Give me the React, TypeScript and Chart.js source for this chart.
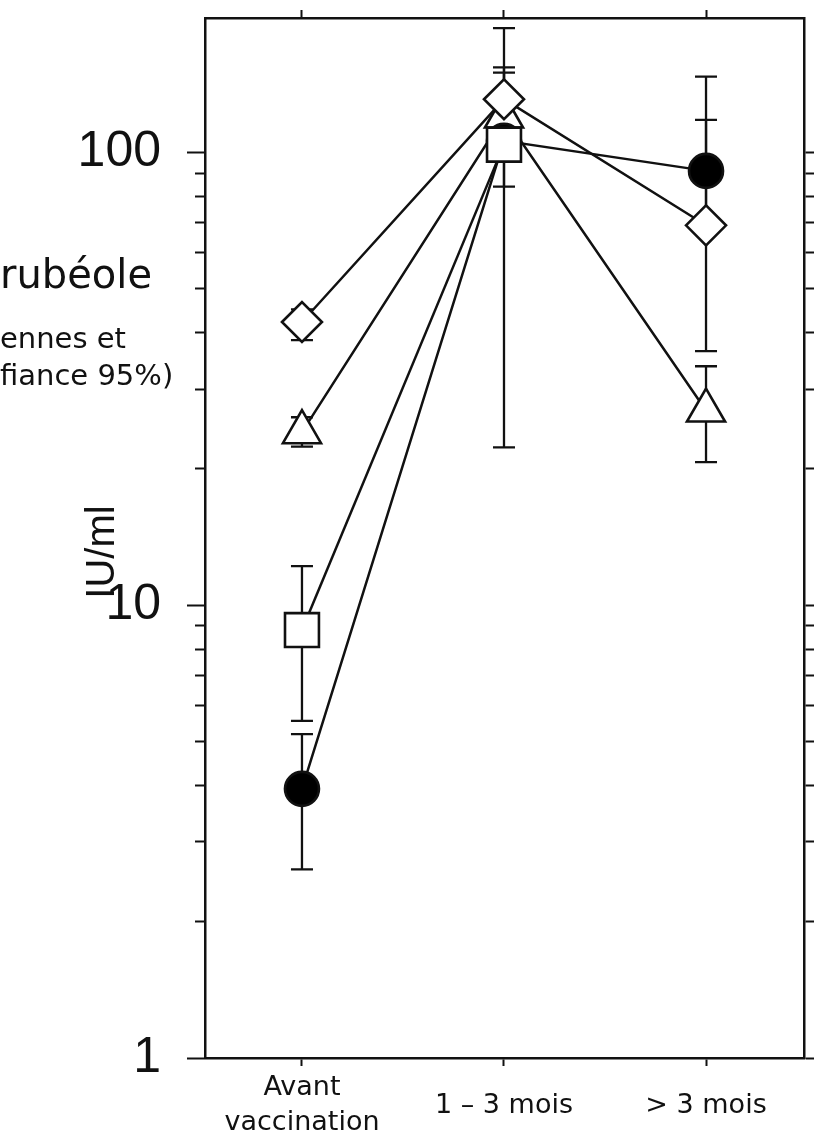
import React, { useEffect, useRef } from "react";
import { Chart, registerables } from "chart.js";

Chart.register(...registerables);

// ---- data ----
const categories: (string | string[])[] = [["Avant", "vaccination"], "1 – 3 mois", "> 3 mois"];
const catPositions = [0, 1, 2];

const circleMean = [3.93, 106, 91];
const circleLow = [2.61, 22.3, 72];
const circleHigh = [5.19, 188, 147];

const squareMean = [8.81, 104, null];
const squareLow = [5.55, 84, null];
const squareHigh = [12.2, 110, null];

const diamondMean = [42.2, 131, 69];
const diamondLow = [38.5, 120, 36.4];
const diamondHigh = [45, 154, 118];

const triangleMean = [24.1, 120, 26.9];
const triangleLow = [22.4, 108, 20.7];
const triangleHigh = [26, 150, 33.7];

const yMin = 1;
const yMax = 198;
const yMajorTicks = [1, 10, 100];
const yMinorTicks = [2, 3, 4, 5, 6, 7, 8, 9, 20, 30, 40, 50, 60, 70, 80, 90];
const yAllTicks = [1, 2, 3, 4, 5, 6, 7, 8, 9, 10, 20, 30, 40, 50, 60, 70, 80, 90, 100];

const annotationTexts = ["rubéole", "ennes et", "fiance 95%)"];
const yTitle = "IU/ml";

type Series = {
  key: string;
  mean: (number | null)[];
  low: (number | null)[];
  high: (number | null)[];
  pointStyle: string;
  radius: number;
  fill: string;
};

// drawing order: first = top
const series: Series[] = [
  { key: "diamond", mean: diamondMean, low: diamondLow, high: diamondHigh, pointStyle: "rectRot", radius: 20, fill: "#ffffff" },
  { key: "square", mean: squareMean, low: squareLow, high: squareHigh, pointStyle: "rect", radius: 24, fill: "#ffffff" },
  { key: "circle", mean: circleMean, low: circleLow, high: circleHigh, pointStyle: "circle", radius: 17, fill: "#000000" },
  { key: "triangle", mean: triangleMean, low: triangleLow, high: triangleHigh, pointStyle: "triangle", radius: 22, fill: "#ffffff" },
];

const INK = "#111111";

const zeroPad = (s: any) => {
  s.paddingTop = 0;
  s.paddingBottom = 0;
  s.paddingLeft = 0;
  s.paddingRight = 0;
};

const errorBarPlugin = {
  id: "errorBars",
  beforeDatasetsDraw(chart: any) {
    const { ctx } = chart;
    const xs = chart.scales.x;
    const ys = chart.scales.y;
    ctx.save();
    ctx.strokeStyle = INK;
    ctx.lineWidth = 2.3;
    series.forEach((s) => {
      s.mean.forEach((m, i) => {
        const lo = s.low[i];
        const hi = s.high[i];
        if (m == null || lo == null || hi == null) return;
        const px = xs.getPixelForValue(catPositions[i]);
        const pLo = ys.getPixelForValue(lo);
        const pHi = ys.getPixelForValue(hi);
        ctx.beginPath();
        ctx.moveTo(px, pLo);
        ctx.lineTo(px, pHi);
        ctx.moveTo(px - 11, pLo);
        ctx.lineTo(px + 11, pLo);
        ctx.moveTo(px - 11, pHi);
        ctx.lineTo(px + 11, pHi);
        ctx.stroke();
      });
    });
    ctx.restore();
  },
};

const textPlugin = {
  id: "freeTexts",
  afterDraw(chart: any) {
    const { ctx } = chart;
    ctx.save();
    ctx.fillStyle = INK;
    ctx.textAlign = "left";
    ctx.textBaseline = "alphabetic";
    ctx.font = '40px "DejaVu Sans"';
    ctx.fillText(annotationTexts[0], 0, 288);
    ctx.font = '29px "DejaVu Sans"';
    ctx.fillText(annotationTexts[1], 0, 348);
    ctx.fillText(annotationTexts[2], 0, 385);
    ctx.translate(103, 552);
    ctx.rotate(-Math.PI / 2);
    ctx.textAlign = "center";
    ctx.textBaseline = "middle";
    ctx.font = '40px "Liberation Sans"';
    ctx.fillText(yTitle, 0, 0);
    ctx.restore();
  },
};

export default function App() {
  const canvasRef = useRef<HTMLCanvasElement | null>(null);

  useEffect(() => {
    const canvas = canvasRef.current;
    if (!canvas) return;
    const datasets = series.map((s) => ({
      label: s.key,
      data: s.mean
        .map((m, i) => (m == null ? null : { x: catPositions[i], y: m }))
        .filter((p) => p !== null) as { x: number; y: number }[],
      borderColor: INK,
      borderWidth: 2.5,
      pointStyle: s.pointStyle as any,
      pointRadius: s.radius,
      pointBackgroundColor: s.fill,
      pointBorderColor: INK,
      pointBorderWidth: 2.6,
      tension: 0,
      fill: false,
    }));

    const chart = new Chart(canvas, {
      type: "line",
      data: { datasets },
      options: {
        animation: false,
        responsive: false,
        events: [],
        layout: { padding: 0, autoPadding: false },
        plugins: { legend: { display: false }, tooltip: { enabled: false } },
        scales: {
          x: {
            type: "linear",
            position: "bottom",
            min: -0.48,
            max: 2.485,
            afterBuildTicks: (s: any) => {
              s.ticks = catPositions.map((v) => ({ value: v }));
            },
            afterFit: (s: any) => {
              s.height = 83;
              zeroPad(s);
            },
            grid: { drawOnChartArea: false, drawTicks: true, tickLength: 8, tickWidth: 2, tickColor: INK },
            border: { display: true, color: INK, width: 2.5 },
            ticks: {
              autoSkip: false,
              maxRotation: 0,
              minRotation: 0,
              crossAlign: "center",
              padding: 22,
              color: INK,
              font: { family: "DejaVu Sans", size: 27, lineHeight: 1.3 },
              callback: (v: any) => categories[Number(v)] as any,
            },
          },
          xTop: {
            type: "linear",
            position: "top",
            min: -0.48,
            max: 2.485,
            afterBuildTicks: (s: any) => {
              s.ticks = catPositions.map((v) => ({ value: v }));
            },
            afterFit: (s: any) => {
              s.height = 18;
              zeroPad(s);
            },
            grid: { drawOnChartArea: false, drawTicks: true, tickLength: 8, tickWidth: 2, tickColor: INK },
            border: { display: true, color: INK, width: 2.5 },
            ticks: { display: false },
          },
          yMinor: {
            type: "logarithmic",
            position: "left",
            min: yMin,
            max: yMax,
            afterBuildTicks: (s: any) => {
              s.ticks = yMinorTicks.map((v) => ({ value: v }));
            },
            afterFit: (s: any) => {
              s.width = 0;
              zeroPad(s);
            },
            grid: { drawOnChartArea: false, drawTicks: true, tickLength: 10, tickWidth: 2, tickColor: INK },
            border: { display: false },
            ticks: { display: false },
          },
          y: {
            type: "logarithmic",
            position: "left",
            min: yMin,
            max: yMax,
            afterBuildTicks: (s: any) => {
              s.ticks = yMajorTicks.map((v) => ({ value: v }));
            },
            afterFit: (s: any) => {
              s.width = 205;
              zeroPad(s);
            },
            grid: { drawOnChartArea: false, drawTicks: true, tickLength: 18, tickWidth: 2, tickColor: INK },
            border: { display: true, color: INK, width: 2.5 },
            ticks: {
              padding: 26,
              color: INK,
              font: { family: "Liberation Sans", size: 50 },
              callback: (v: any) => String(v),
            },
          },
          yRight: {
            type: "logarithmic",
            position: "right",
            min: yMin,
            max: yMax,
            afterBuildTicks: (s: any) => {
              s.ticks = yAllTicks.map((v) => ({ value: v }));
            },
            afterFit: (s: any) => {
              s.width = 10;
              zeroPad(s);
            },
            grid: { drawOnChartArea: false, drawTicks: true, tickLength: 10, tickWidth: 2, tickColor: INK },
            border: { display: true, color: INK, width: 2.5 },
            ticks: { display: false },
          },
        },
      } as any,
      plugins: [errorBarPlugin, textPlugin],
    });
    return () => chart.destroy();
  }, []);

  return (
    <div style={{ position: "absolute", left: 0, top: 0, width: 814, height: 1141, background: "#ffffff" }}>
      <canvas ref={canvasRef} width={814} height={1141} />
    </div>
  );
}
